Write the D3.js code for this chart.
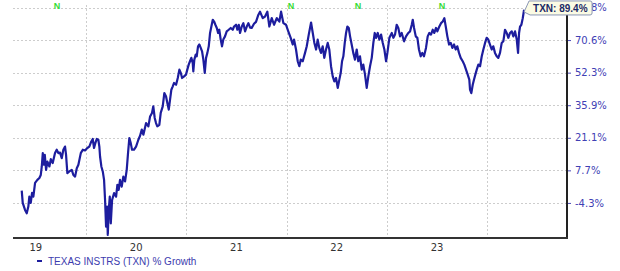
<!DOCTYPE html>
<html>
<head>
<meta charset="utf-8">
<script src="https://cdn.jsdelivr.net/npm/d3@7"></script>
<style>
  html, body { margin: 0; padding: 0; background: #fff; }
  svg { display: block; }
</style>
</head>
<body>
<svg id="chart"></svg>
<script>
// decimal year of each reading
const years = [
  2019.359,2019.369,2019.392,2019.409,2019.425,2019.435,2019.449,2019.462,2019.475,2019.492,
  2019.515,2019.535,2019.549,2019.559,2019.569,2019.579,2019.589,2019.602,2019.615,2019.635,
  2019.649,2019.668,2019.691,2019.708,2019.724,2019.741,2019.758,2019.774,2019.791,2019.801,
  2019.814,2019.834,2019.858,2019.874,2019.891,2019.908,2019.924,2019.948,2019.968,2019.990,
  2020.013,2020.033,2020.053,2020.067,2020.080,2020.093,2020.107,2020.123,2020.133,2020.140,
  2020.153,2020.167,2020.180,2020.190,2020.200,2020.210,2020.217,2020.227,2020.237,2020.247,
  2020.260,2020.280,2020.300,2020.313,2020.326,2020.339,2020.356,2020.372,2020.389,2020.406,
  2020.419,2020.432,2020.446,2020.459,2020.479,2020.499,2020.522,2020.539,2020.556,2020.572,
  2020.599,2020.622,2020.639,2020.658,2020.671,2020.685,2020.698,2020.711,2020.731,2020.745,
  2020.765,2020.781,2020.798,2020.811,2020.825,2020.838,2020.851,2020.865,2020.878,2020.898,
  2020.915,2020.931,2020.945,2020.958,2020.978,2020.997,2021.010,2021.024,2021.037,2021.050,
  2021.064,2021.070,2021.080,2021.094,2021.104,2021.117,2021.130,2021.144,2021.157,2021.170,
  2021.184,2021.197,2021.210,2021.224,2021.237,2021.250,2021.264,2021.277,2021.290,2021.304,
  2021.317,2021.329,2021.343,2021.356,2021.369,2021.386,2021.403,2021.423,2021.443,2021.463,
  2021.476,2021.496,2021.509,2021.523,2021.536,2021.553,2021.569,2021.586,2021.603,2021.619,
  2021.636,2021.652,2021.675,2021.695,2021.718,2021.735,2021.762,2021.785,2021.808,2021.828,
  2021.852,2021.875,2021.902,2021.928,2021.945,2021.968,2021.994,2022.017,2022.041,2022.061,
  2022.074,2022.094,2022.111,2022.127,2022.141,2022.161,2022.184,2022.201,2022.221,2022.244,
  2022.261,2022.277,2022.294,2022.310,2022.326,2022.343,2022.360,2022.376,2022.393,2022.410,
  2022.426,2022.443,2022.460,2022.476,2022.493,2022.510,2022.526,2022.540,2022.553,2022.566,
  2022.580,2022.593,2022.606,2022.620,2022.633,2022.649,2022.665,2022.682,2022.699,2022.715,
  2022.732,2022.749,2022.765,2022.782,2022.799,2022.815,2022.832,2022.849,2022.865,2022.879,
  2022.892,2022.909,2022.925,2022.942,2022.959,2022.975,2022.992,2023.005,2023.025,2023.049,
  2023.065,2023.081,2023.098,2023.114,2023.131,2023.148,2023.171,2023.191,2023.214,2023.231,
  2023.248,2023.258,2023.271,2023.288,2023.304,2023.320,2023.337,2023.353,2023.370,2023.390,
  2023.407,2023.423,2023.440,2023.457,2023.473,2023.490,2023.503,2023.523,2023.540,2023.557,
  2023.573,2023.587,2023.603,2023.620,2023.637,2023.653,2023.670,2023.686,2023.702,2023.719,
  2023.736,2023.756,2023.772,2023.789,2023.806,2023.822,2023.829,2023.842,2023.856,2023.869,
  2023.882,2023.896,2023.912,2023.929,2023.946,2023.962,2023.979,2023.995,2024.011,2024.028,
  2024.045,2024.061,2024.078,2024.095,2024.111,2024.128,2024.145,2024.161,2024.178,2024.195,
  2024.211,2024.228,2024.245,2024.261,2024.278,2024.295,2024.308,2024.318,2024.328,2024.341,
  2024.355,2024.368
]

// % growth of TXN at each reading
const growth = [
  0.2,-4.3,-6.6,-7.7,-5.5,-2.0,-4.3,-0.6,-2.0,3.1,
  4.2,4.9,6.0,9.3,14.8,10.0,14.1,7.9,11.3,9.3,
  12.3,10.7,14.8,16.2,14.8,15.0,12.7,16.2,17.5,14.1,
  6.7,7.3,7.9,6.0,5.4,8.6,10.0,14.8,16.2,15.9,
  16.9,17.5,19.6,20.6,16.9,18.9,20.6,20.3,17.5,13.4,
  9.3,7.3,4.2,-3.2,-12.1,-5.5,-14.8,-6.6,-2.0,-11.0,
  -3.2,-0.7,-2.0,2.4,0.5,4.2,1.7,5.4,3.6,7.9,
  14.8,21.0,18.9,16.2,16.2,17.5,20.3,22.0,24.8,22.5,
  27.8,26.3,30.8,32.4,35.4,30.1,27.8,26.3,27.0,32.4,
  35.4,42.0,40.3,37.0,33.9,38.7,43.7,45.4,47.1,46.2,
  49.6,54.0,52.2,49.6,50.4,51.3,54.0,56.8,58.7,60.6,
  57.8,53.0,59.6,62.4,61.5,67.1,68.1,66.2,64.3,59.6,
  52.2,60.6,63.4,67.1,75.0,79.0,83.2,82.1,80.1,78.1,
  75.0,77.0,70.9,67.1,70.9,72.9,76.0,77.0,78.1,77.0,
  79.0,80.1,77.0,80.1,75.0,79.0,81.1,76.0,79.0,81.1,
  78.3,78.1,80.7,81.9,86.2,88.2,84.2,85.2,88.2,79.0,
  84.2,80.1,84.2,82.1,88.2,81.1,80.1,76.0,72.0,68.1,
  70.9,65.3,58.7,55.9,59.6,58.7,63.4,67.1,74.0,81.5,
  75.0,69.0,65.3,70.9,66.2,63.4,67.1,60.6,65.3,69.0,
  65.3,55.9,50.4,47.9,49.6,44.6,48.8,52.2,58.7,61.5,
  69.0,75.0,79.0,78.1,72.9,68.1,63.4,59.6,65.3,58.7,
  61.5,54.0,56.8,51.3,44.6,50.4,55.9,60.6,69.0,75.0,
  72.0,75.0,70.9,74.0,69.0,65.3,58.7,63.4,72.0,75.0,
  72.0,74.0,80.1,78.1,72.9,75.0,69.9,72.9,75.0,76.0,
  80.1,83.2,78.1,72.9,72.0,65.3,61.5,63.4,61.5,66.2,
  72.9,75.0,74.0,77.0,75.0,78.1,76.0,79.0,81.1,82.1,
  84.2,79.0,72.9,68.1,69.0,66.2,68.1,65.3,67.1,63.4,
  60.6,58.7,56.8,54.0,51.3,48.8,43.7,42.0,46.2,48.8,
  51.3,54.0,56.8,55.9,61.5,65.3,69.0,72.0,70.9,68.1,
  65.3,67.1,63.4,61.5,60.6,63.4,69.0,69.9,77.0,75.0,
  72.0,75.0,76.0,72.9,76.0,70.9,63.4,75.0,79.0,80.1,
  84.2,89.4
]

// right axis tick labels (%) and the scale knot just below the last one
const yTicks = [-4.3, 7.7, 21.1, 35.9, 52.3, 70.6, 90.8]
const yBottomKnot = -15.0

const xGridYears = [2020, 2021, 2022, 2023, 2024]
const xLabelYears = [2019.5, 2020.5, 2021.5, 2022.5, 2023.5]
const xLabels = ["19", "20", "21", "22", "23"]

const newsYears = [2019.711, 2022.044, 2022.712, 2023.550]

const seriesName = "TEXAS INSTRS (TXN) % Growth"
const lastLabel = "TXN: 89.4%"

function drawChart() {
  const width = 620, height = 271
  const mLeft = 13, mRight = 567, mTop = 5, mBottom = 238
  const lineColor = "#1d1d9e"

  const svg = d3.select("#chart").attr("width", width).attr("height", height)

  const x = d3.scaleLinear().domain([2019.272, 2024.796]).range([mLeft, mRight])

  const knots = [yBottomKnot].concat(yTicks)
  const step = (235.5 - 7.5) / (knots.length - 1)
  const y = d3.scaleLinear()
    .domain(knots)
    .range(knots.map((d, i) => 235.5 - i * step))

  // grid
  const grid = svg.append("g").attr("stroke", "#cdcdcd").attr("stroke-dasharray", "2,2").attr("stroke-width", 1)
  grid.selectAll("line.h").data(yTicks).join("line")
    .attr("class", "h")
    .attr("x1", mLeft).attr("x2", mRight)
    .attr("y1", d => Math.round(y(d)) + 0.5).attr("y2", d => Math.round(y(d)) + 0.5)
  grid.selectAll("line.v").data(xGridYears).join("line")
    .attr("class", "v")
    .attr("x1", d => Math.round(x(d)) + 0.5).attr("x2", d => Math.round(x(d)) + 0.5)
    .attr("y1", mTop).attr("y2", mBottom)

  // right axis
  const yAxis = d3.axisRight(y).tickValues(yTicks).tickSize(4).tickPadding(4)
    .tickFormat(d => d.toFixed(1) + "%")
  const ya = svg.append("g").attr("transform", `translate(${mRight},0)`).call(yAxis)
  ya.select(".domain").remove()
  ya.selectAll(".tick line").attr("stroke", "#4a4ab8")
  ya.selectAll(".tick text")
    .attr("fill", "#4040b4")
    .style("font-family", "'DejaVu Sans', Verdana, sans-serif")
    .style("font-size", "10px")
  svg.append("line")
    .attr("x1", mRight).attr("x2", mRight).attr("y1", mTop).attr("y2", mBottom + 1)
    .attr("stroke", "#222").attr("stroke-width", 2)

  // bottom axis
  svg.append("line")
    .attr("x1", mLeft).attr("x2", mRight + 1).attr("y1", mBottom).attr("y2", mBottom)
    .attr("stroke", "#333").attr("stroke-width", 2)
  svg.selectAll("text.xl").data(xLabelYears).join("text")
    .attr("class", "xl")
    .attr("x", d => x(d)).attr("y", 250.5)
    .attr("text-anchor", "middle")
    .attr("fill", "#333")
    .style("font-family", "'DejaVu Sans', Verdana, sans-serif")
    .style("font-size", "10px")
    .text((d, i) => xLabels[i])

  // series
  const pts = years.map((yr, i) => ({ yr, v: growth[i] }))
  const line = d3.line().x(d => x(d.yr)).y(d => y(d.v))
  svg.append("path")
    .datum(pts)
    .attr("fill", "none")
    .attr("stroke", lineColor)
    .attr("stroke-width", 2.2)
    .attr("stroke-linejoin", "round")
    .attr("d", line)

  // news markers
  svg.selectAll("text.news").data(newsYears).join("text")
    .attr("class", "news")
    .attr("x", d => x(d)).attr("y", 8.5)
    .attr("text-anchor", "middle")
    .attr("fill", "#36dc36")
    .style("font-family", "'Liberation Sans', Arial, sans-serif")
    .style("font-size", "9px")
    .style("font-weight", "bold")
    .text("N")

  // last value callout (covers the top tick label, as in the source chart)
  const last = pts[pts.length - 1]
  const lx = x(last.yr), ly = y(last.v)
  const bx = lx, bw = 68, bh = 14, by = ly - 8.8
  const tip = svg.append("g")
  tip.append("path")
    .attr("d", `M${bx},${by + bh - 3} L${bx + 5},${by} H${bx + bw - 2} Q${bx + bw},${by} ${bx + bw},${by + 2} V${by + bh - 2} Q${bx + bw},${by + bh} ${bx + bw - 2},${by + bh} H${bx + 6} Z`)
    .attr("fill", "#fbfbe4")
    .attr("stroke", "#8a96b4")
    .attr("stroke-width", 1)
  tip.append("text")
    .attr("x", bx + 9).attr("y", by + 11)
    .attr("fill", "#1c2a66")
    .style("font-family", "'Liberation Sans', Arial, sans-serif")
    .style("font-size", "10px")
    .style("font-weight", "bold")
    .text(lastLabel)

  // legend
  svg.append("line")
    .attr("x1", 37).attr("x2", 42).attr("y1", 261).attr("y2", 261)
    .attr("stroke", lineColor).attr("stroke-width", 2)
  svg.append("text")
    .attr("x", 48).attr("y", 264.5)
    .attr("fill", "#3c3cae")
    .style("font-family", "'Liberation Sans', Arial, sans-serif")
    .style("font-size", "10px")
    .text(seriesName)
}

drawChart()
</script>
</body>
</html>
